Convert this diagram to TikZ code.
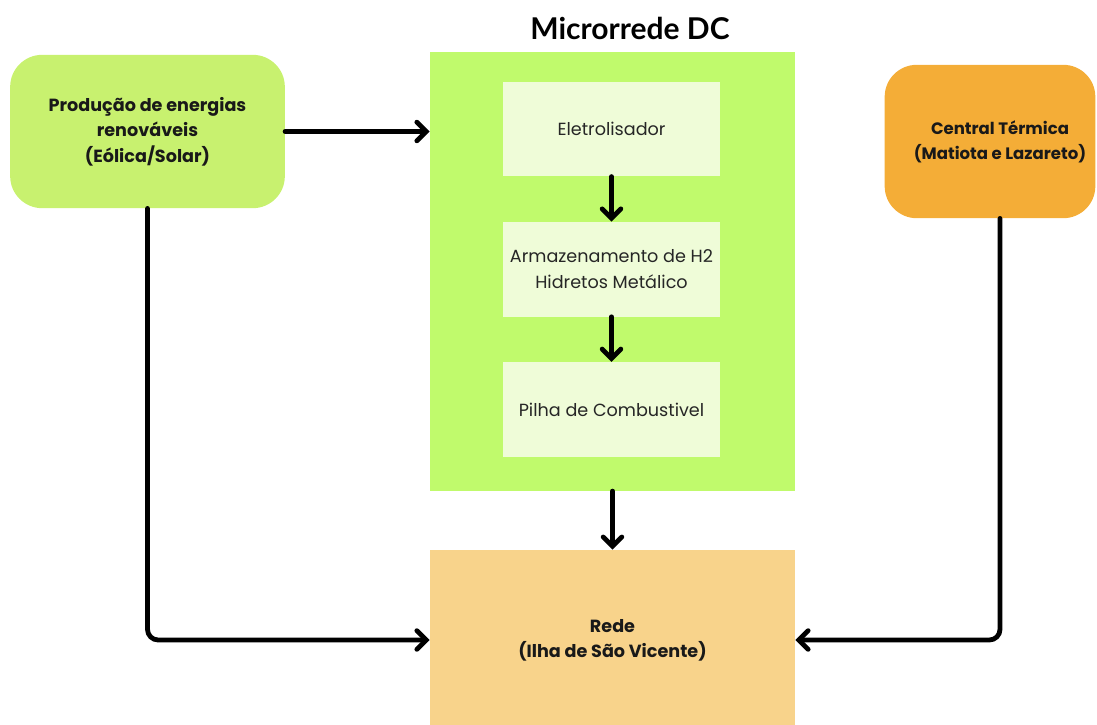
\documentclass[tikz,border=0pt]{standalone}
\usepackage{fontspec}
\setmainfont{Poppins}
\newfontfamily\titlefont{Lato}
\usepackage{tikz}
\usetikzlibrary{arrows.meta, positioning}
\definecolor{mgGreen}{HTML}{C0FA6C}
\definecolor{mgLeaf}{HTML}{C8F16F}
\definecolor{mgPale}{HTML}{EFFCD8}
\definecolor{mgSand}{HTML}{F8D38B}
\definecolor{mgOrange}{HTML}{F4AD37}
\tikzset{
  mgnode/.style={
    draw=none, minimum width=206pt, minimum height=115pt,
    font=\fontsize{13.2}{19}\selectfont\bfseries, align=center, text=black!90
  },
  source/.style={mgnode, rounded corners=24pt, fill=mgLeaf},
  thermal/.style={mgnode, rounded corners=24pt, fill=mgOrange, minimum width=158pt,
    font=\fontsize{12.4}{19}\selectfont\bfseries},
  grid/.style={mgnode, fill=mgGreen, minimum width=274pt, minimum height=329pt},
  stage/.style={draw=none, fill=mgPale, minimum width=163pt, minimum height=71pt,
    font=\fontsize{13.2}{19}\selectfont, align=center, text=black!85},
  load/.style={mgnode, fill=mgSand, minimum width=274pt, minimum height=135pt},
  flow/.style={-{Straight Barb[length=7pt, width=14pt, line cap=round]},
    line width=3.6pt, line cap=round, rounded corners=8pt, black},
  title/.style={font=\titlefont\fontsize{22.5}{26}\selectfont\bfseries}
}
\begin{document}
\begin{tikzpicture}[x=0.75pt, y=-0.75pt, node distance=33.75pt]
  \useasboundingbox (0,0) rectangle (1097,725);
  \node[source] (prod) at (147.5,131.5) {Produção de energias\\renováveis\\(Eólica/Solar)};
  \node[grid] (micro) at (612.5,271.5) {};
  \node[title] (mtitle) at (630,28) {Microrrede DC};
  \node[stage] (elec) at (611.5,129) {Eletrolisador};
  \node[stage, below=of elec] (store) {Armazenamento de H2\\Hidretos Metálico};
  \node[stage, below=of store] (cell) {Pilha de Combustivel};
  \node[thermal] (central) at (990,141.5) {\hspace*{15pt}Central Térmica\\\hspace*{15pt}(Matiota e Lazareto)};
  \node[load] (rede) at (612.5,640) {Rede\\(Ilha de São Vicente)};
  \draw[flow] (prod.east) -- (prod.east -| micro.west);
  \draw[flow] (elec) -- (store);
  \draw[flow] (store) -- (cell);
  \draw[flow] (micro) -- (rede);
  \draw[flow] (prod.south) |- (rede.west);
  \draw[flow] ([xshift=7.5pt]central.south) |- (rede.east);
\end{tikzpicture}
\end{document}
